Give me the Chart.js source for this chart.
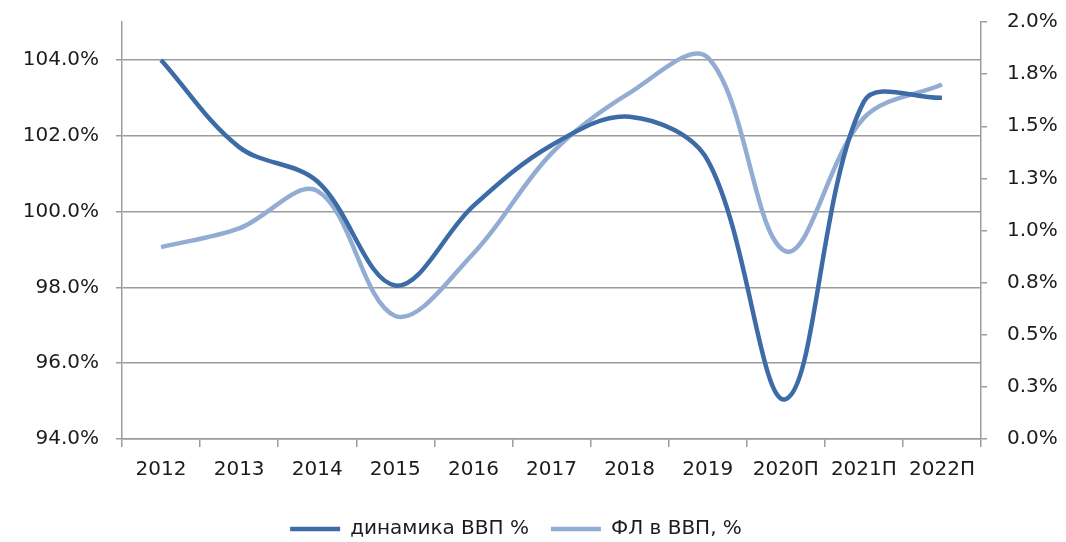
<!DOCTYPE html>
<html>
<head>
<meta charset="utf-8">
<script src="https://cdn.jsdelivr.net/npm/chart.js@4/dist/chart.umd.min.js"></script>
<style>
  html, body { margin: 0; padding: 0; background: #fff; }
  #wrap { width: 1066px; height: 542px; }
</style>
</head>
<body>
<div id="wrap"><canvas id="chart" width="1066" height="542"></canvas></div>
<script>
// ── Data ───────────────────────────────────────────────
const years     = ['2012', '2013', '2014', '2015', '2016', '2017', '2018', '2019', '2020П', '2021П', '2022П'];
const gdpGrowth = [104.0, 101.7, 100.8, 98.05, 100.15, 101.75, 102.5, 101.35, 95.05, 102.9, 103.0];
const flShare   = [0.92, 1.01, 1.19, 0.59, 0.89, 1.37, 1.66, 1.83, 0.90, 1.54, 1.70];

const DARK  = '#3d6ba6';
const LIGHT = '#93acd4';
const GRID  = '#9c9c9c';
const TEXT  = '#1c1c1c';
const FONT  = { family: '"DejaVu Sans", Verdana, sans-serif', size: 20 };

// fixed axis widths, no extra label padding above the plot
const fitY = w => s => { s.width = w; s.paddingTop = 0; s.paddingBottom = 0; };

// legend sits a bit left of the canvas centre in the original
const legendShift = {
  id: 'legendShift',
  afterLayout(chart) { if (chart.legend) chart.legend.left -= 34; }
};

// ── Chart ──────────────────────────────────────────────
new Chart(document.getElementById('chart'), {
  type: 'line',
  data: {
    labels: years,
    datasets: [
      {
        label: 'динамика ВВП %',
        data: gdpGrowth,
        yAxisID: 'y',
        borderColor: DARK,
        backgroundColor: DARK,
        borderWidth: 4.5,
        pointRadius: 0,
        tension: 0.35
      },
      {
        label: 'ФЛ в ВВП, %',
        data: flShare,
        yAxisID: 'y1',
        borderColor: LIGHT,
        backgroundColor: LIGHT,
        borderWidth: 4.5,
        pointRadius: 0,
        tension: 0.35
      }
    ]
  },
  plugins: [legendShift],
  options: {
    responsive: false,
    animation: false,
    layout: { padding: { top: 22, bottom: -7 } },
    plugins: {
      tooltip: { enabled: false },
      legend: {
        position: 'bottom',
        labels: {
          usePointStyle: true,
          pointStyle: 'line',
          pointStyleWidth: 50,
          color: TEXT,
          font: FONT,
          padding: 22
        }
      }
    },
    scales: {
      x: {
        offset: true,
        grid: { offset: true, drawOnChartArea: false, drawTicks: true, tickLength: 8, color: GRID, lineWidth: 1.5 },
        border: { color: GRID, width: 1.5 },
        ticks: { color: TEXT, font: FONT, padding: 11, maxRotation: 0, autoSkip: false },
        afterFit: s => { s.height = 58; }
      },
      y: {
        position: 'left',
        min: 94,
        max: 105,
        grid: { color: GRID, lineWidth: 1.5, tickLength: 6 },
        border: { color: GRID, width: 1.5 },
        ticks: {
          stepSize: 2,
          includeBounds: false,
          color: TEXT,
          font: FONT,
          padding: 17,
          callback: v => v.toFixed(1) + '%'
        },
        afterFit: fitY(122)
      },
      y1: {
        position: 'right',
        min: 0,
        max: 2,
        grid: { drawOnChartArea: false, color: GRID, lineWidth: 1.5, tickLength: 6 },
        border: { color: GRID, width: 1.5 },
        ticks: {
          stepSize: 0.25,
          color: TEXT,
          font: FONT,
          padding: 20,
          callback: v => v.toFixed(1) + '%'
        },
        afterFit: fitY(85)
      }
    }
  }
});
</script>
</body>
</html>
